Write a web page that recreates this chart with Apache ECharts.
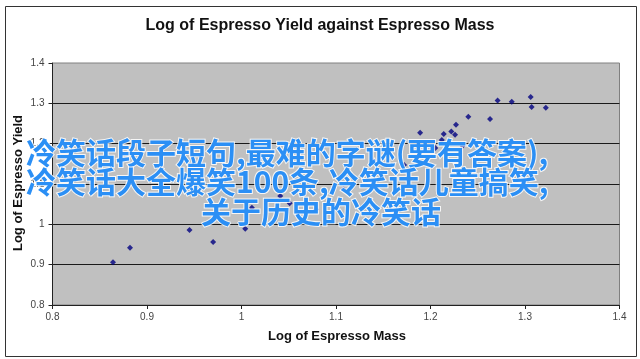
<!DOCTYPE html>
<html>
<head>
<meta charset="utf-8">
<script src="https://cdn.jsdelivr.net/npm/echarts@6/dist/echarts.min.js"></script>
<style>
html,body{margin:0;padding:0;background:#fff;}
#chart{width:640px;height:359px;}
</style>
</head>
<body>
<div id="chart"></div>
<script>
// Data
var titleText = 'Log of Espresso Yield against Espresso Mass';
var xAxisTitle = 'Log of Espresso Mass';
var yAxisTitle = 'Log of Espresso Yield';
var overlayLines = ['冷笑话段子短句,最难的字谜(要有答案),', '冷笑话大全爆笑100条,冷笑话儿童搞笑,', '关于历史的冷笑话'];

var logMass = [0.864, 0.882, 0.945, 0.970, 1.004, 1.011, 1.041, 1.051, 1.079, 1.108,
               1.139, 1.172, 1.189, 1.205, 1.212, 1.214, 1.222, 1.226, 1.227, 1.234,
               1.240, 1.263, 1.271, 1.286, 1.306, 1.307, 1.322];
var logYield = [0.906, 0.942, 0.986, 0.956, 0.989, 1.041, 1.070, 1.052, 1.037, 1.087,
                1.158, 1.147, 1.227, 1.189, 1.209, 1.224, 1.230, 1.222, 1.247, 1.195,
                1.267, 1.261, 1.307, 1.304, 1.316, 1.291, 1.289];

var axisMin = 0.8, axisMax = 1.4, axisStep = 0.1;

var points = logMass.map(function (m, i) { return [m, logYield[i]]; });

var chart = echarts.init(document.getElementById('chart'), null, {renderer: 'canvas'});
var latin = 'Arial, "Liberation Sans", sans-serif';
var cjk = '"Noto Sans CJK SC", sans-serif';

var overlayStyle = function (txt) {
  return {
    text: txt,
    fill: '#2b8ff5',
    stroke: 'rgba(255,255,255,0.85)',
    lineWidth: 2,
    font: 'bold 30px ' + cjk,
    align: 'left',
    verticalAlign: 'middle'
  };
};

chart.setOption({
  animation: false,
  backgroundColor: '#fff',
  title: {
    text: titleText,
    left: 'center',
    top: 13,
    textStyle: {fontFamily: latin, fontSize: 16, fontWeight: 'bold', color: '#111'}
  },
  grid: {
    left: 52.5, right: 20.5, top: 63, bottom: 54,
    show: true, backgroundColor: '#c0c0c0', borderColor: '#808080', borderWidth: 1
  },
  xAxis: {
    type: 'value', min: axisMin, max: axisMax, interval: axisStep,
    axisLine: {show: true, lineStyle: {color: '#222', width: 1}},
    axisTick: {show: true, length: 4, lineStyle: {color: '#222'}},
    axisLabel: {margin: 7, fontFamily: latin, fontSize: 10, color: '#444'},
    splitLine: {show: false}
  },
  yAxis: {
    type: 'value', min: axisMin, max: axisMax, interval: axisStep,
    axisLine: {show: true, lineStyle: {color: '#222', width: 1}},
    axisTick: {show: true, length: 4, lineStyle: {color: '#222'}},
    axisLabel: {margin: 8, fontFamily: latin, fontSize: 10, color: '#444'},
    splitLine: {show: true, showMinLine: false, showMaxLine: false, lineStyle: {color: '#1a1a1a', width: 1}}
  },
  series: [{
    type: 'scatter',
    data: points,
    symbol: 'diamond',
    symbolSize: 6,
    itemStyle: {color: '#000080'},
    z: 3
  }],
  graphic: [
    {type: 'rect', left: 3, top: 4, shape: {width: 631, height: 350}, style: {fill: 'none', stroke: '#333', lineWidth: 1}, silent: true, z: 1},
    {type: 'text', x: 337, y: 336, style: {text: xAxisTitle, font: 'bold 13px ' + latin, fill: '#111', align: 'center', verticalAlign: 'middle'}, z: 5},
    {type: 'text', x: 18, y: 183, rotation: Math.PI / 2, style: {text: yAxisTitle, font: 'bold 13px ' + latin, fill: '#111', align: 'center', verticalAlign: 'middle'}, z: 5},
    {type: 'text', x: 26, y: 153, style: overlayStyle(overlayLines[0]), z: 100},
    {type: 'text', x: 26, y: 182, style: overlayStyle(overlayLines[1]), z: 100},
    {type: 'text', x: 201, y: 212, style: overlayStyle(overlayLines[2]), z: 100}
  ]
});
</script>
</body>
</html>
